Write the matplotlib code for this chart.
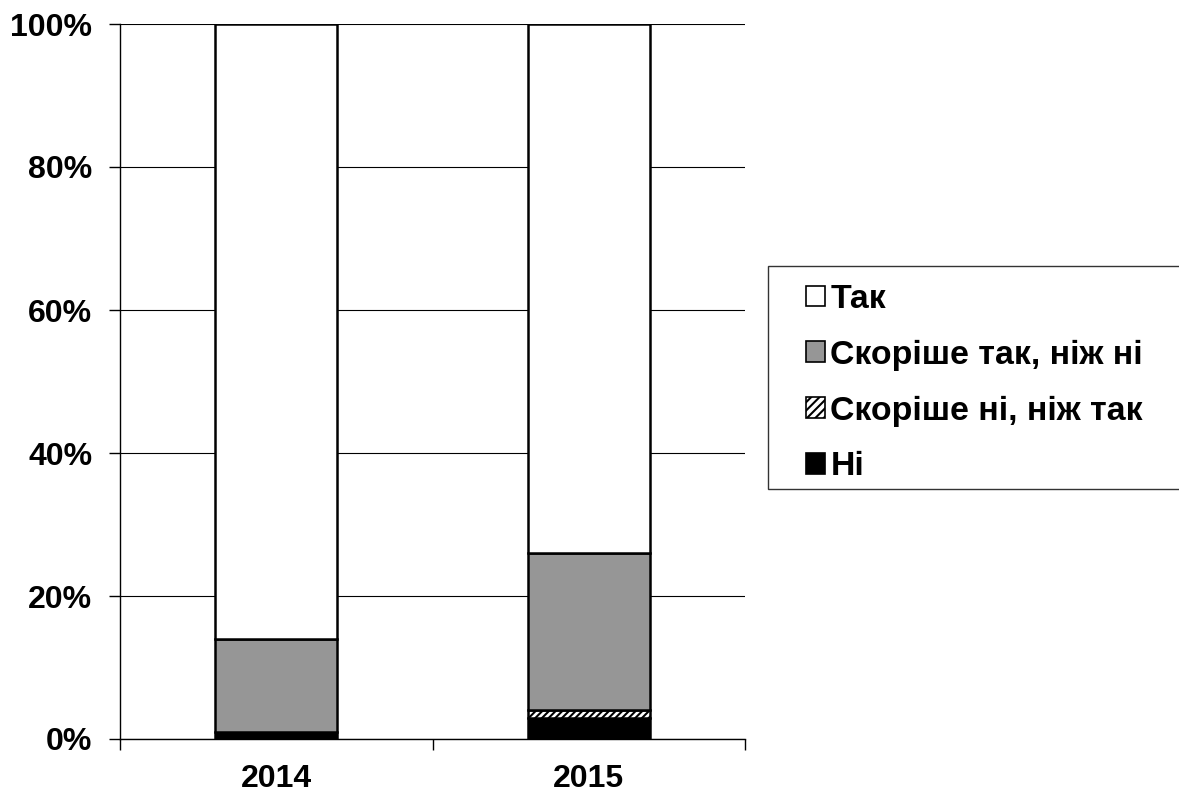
import matplotlib
matplotlib.use("Agg")
import matplotlib.pyplot as plt
from matplotlib.patches import Patch, Rectangle
import numpy as np

plt.rcParams['font.family'] = ['Liberation Sans', 'DejaVu Sans']
plt.rcParams['hatch.linewidth'] = 1.5

years = ["2014", "2015"]
labels = ["Так", "Скоріше так, ніж ні", "Скоріше ні, ніж так", "Ні"]
ni = [1, 3]
skorishe_ni = [0, 1]
skorishe_tak = [13, 22]
tak = [86, 74]

W, H = 1179, 796
fig = plt.figure(figsize=(W/100, H/100), dpi=100)
ax = fig.add_axes([120/W, 1-739/H, 625/W, 715/H])

x = np.arange(len(years))
w = 0.39
series = [ni, skorishe_ni, skorishe_tak, tak]
styles = [dict(facecolor='black', hatch=None),
          dict(facecolor='white', hatch='/////'),
          dict(facecolor='#969696', hatch=None),
          dict(facecolor='white', hatch=None)]
bottom = np.zeros(len(years))
for vals, st in zip(series, styles):
    vals = np.array(vals, dtype=float)
    ax.bar(x, vals, w, bottom=bottom, facecolor=st['facecolor'], hatch=st['hatch'],
           edgecolor='black', linewidth=1.8, zorder=3)
    bottom += vals

FS = 23
ax.set_xlim(-0.5, 1.5)
ax.set_ylim(0, 100)
ax.set_yticks(np.arange(0, 101, 20))
ax.set_yticklabels([f"{v}%" for v in range(0, 101, 20)], fontsize=FS, fontweight='bold')
ax.set_xticks(x)
ax.set_xticklabels(years, fontsize=FS, fontweight='bold')
ax.set_xticks([-0.5, 0.5, 1.5], minor=True)
ax.tick_params(axis='x', which='major', length=0, pad=18)
ax.tick_params(axis='x', which='minor', length=8, width=1, color='black', direction='out')
ax.tick_params(axis='y', length=8, width=1, direction='out', pad=12)
ax.grid(axis='y', color='black', linewidth=0.8, zorder=0)
for s in ['top', 'right']:
    ax.spines[s].set_visible(False)
ax.spines['left'].set_linewidth(1)
ax.spines['bottom'].set_linewidth(1)

# legend frame
fig.patches.append(Rectangle((768/W, 1-489/H), (1190-768)/W, (489-266)/H,
                             transform=fig.transFigure, facecolor='white',
                             edgecolor='#333333', linewidth=1, zorder=1))

handles = [Patch(facecolor='white', edgecolor='black', linewidth=1.2),
           Patch(facecolor='#969696', edgecolor='black', linewidth=1.2),
           Patch(facecolor='white', edgecolor='black', hatch='////', linewidth=1.2),
           Patch(facecolor='black', edgecolor='black', linewidth=1.2)]
LFS = 24.4
leg = fig.legend(handles, labels, loc='upper left',
                 bbox_to_anchor=(806/W, 1-284/H),
                 prop={'size': LFS, 'weight': 'bold'},
                 handlelength=0.57, handleheight=0.57, handletextpad=0.15,
                 labelspacing=0.73, borderpad=0, borderaxespad=0,
                 frameon=False)
leg.set_zorder(2)

fig.savefig("out.png", dpi=100)
